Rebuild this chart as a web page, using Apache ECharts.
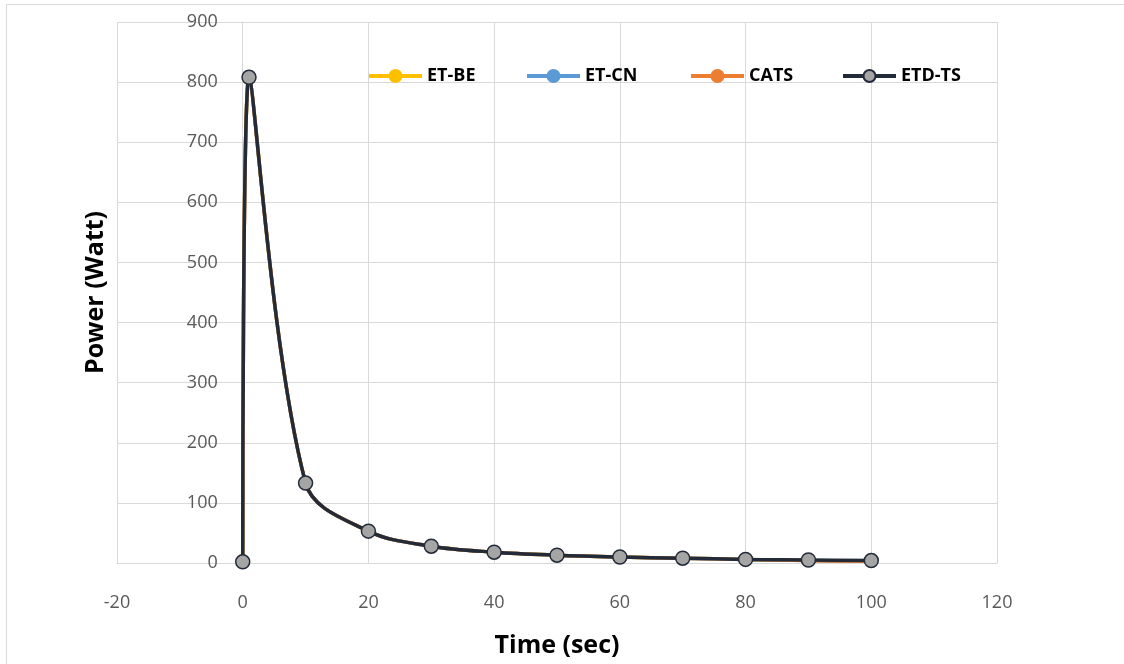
<!DOCTYPE html>
<html><head><meta charset="utf-8">
<script src="https://cdn.jsdelivr.net/npm/echarts@6/dist/echarts.min.js"></script>
<style>html,body{margin:0;padding:0;background:#fff}#c{width:1124px;height:664px}</style>
</head><body><div id="c"></div>
<script>
const timeSec = [0, 1, 10, 20, 30, 40, 50, 60, 70, 80, 90, 100];
const etBE   = [2, 808, 133, 53, 28, 18, 13, 10, 8, 6, 4, 3];
const etCN   = [2, 808, 133, 53, 28, 18, 13, 10, 8, 6, 4, 3];
const cats   = [2, 808, 133, 53, 28, 18, 13, 10, 8, 6, 4, 3];
const etdTS  = [2, 808, 133, 53, 28, 18, 13, 10, 8, 6, 5, 4];
const seriesNames = ['ET-BE', 'ET-CN', 'CATS', 'ETD-TS'];
const xTicks = {min: -20, max: 120, interval: 20};
const yTicks = {min: 0, max: 900, interval: 100};

const pair = arr => timeSec.map((t, i) => [t, arr[i]]);
const font = '"Open Sans", "Noto Sans", sans-serif';
const cfg = [
  {name: seriesNames[0], data: etBE, line: '#FFC000', fill: '#FFC000', border: '#FFC000'},
  {name: seriesNames[1], data: etCN, line: '#5B9BD5', fill: '#5B9BD5', border: '#5B9BD5'},
  {name: seriesNames[2], data: cats, line: '#ED7D31', fill: '#ED7D31', border: '#ED7D31'},
  {name: seriesNames[3], data: etdTS, line: '#232B39', fill: '#A5A5A5', border: '#232B39'}
];
const legendLeft = [362, 520, 684, 836];
const gridLeft = 117, gridRight = 127, chartW = 1124;
// y axis crosses the x axis at x = 0 (as in the original)
const yAxisOffset = -(0 - xTicks.min) / (xTicks.max - xTicks.min) * (chartW - gridLeft - gridRight);
const chart = echarts.init(document.getElementById('c'));
chart.setOption({
  animation: false,
  backgroundColor: '#fff',
  graphic: [{type: 'rect', shape: {x: 6.5, y: 4.5, width: 1130, height: 670},
    style: {fill: 'none', stroke: '#D9D9D9', lineWidth: 1}, silent: true}],
  grid: {left: gridLeft, right: gridRight, top: 22, bottom: 101, containLabel: false, outerBoundsMode: 'none'},
  legend: seriesNames.map((n, i) => ({
    top: 62, left: legendLeft[i], itemWidth: 53, itemHeight: 15, itemGap: 5,
    lineStyle: {width: 4},
    textStyle: {fontFamily: font, fontWeight: 'bold', fontSize: 18, color: '#000'},
    data: [n]
  })),
  xAxis: {
    type: 'value', min: xTicks.min, max: xTicks.max, interval: xTicks.interval,
    name: 'Time (sec)', nameLocation: 'middle', nameGap: 70,
    nameTextStyle: {fontFamily: font, fontWeight: 'bold', fontSize: 25, color: '#000'},
    axisLine: {show: true, onZero: false, lineStyle: {color: '#D9D9D9', width: 1}},
    axisTick: {show: false},
    axisLabel: {fontFamily: font, fontSize: 18, color: '#595959', margin: 31},
    splitLine: {show: true, lineStyle: {color: '#D9D9D9', width: 1}}
  },
  yAxis: {
    type: 'value', min: yTicks.min, max: yTicks.max, interval: yTicks.interval,
    position: 'left', offset: yAxisOffset,
    name: 'Power (Watt)', nameLocation: 'middle', nameGap: 134, nameRotate: 90,
    nameTextStyle: {fontFamily: font, fontWeight: 'bold', fontSize: 25, color: '#000'},
    axisLine: {show: true, onZero: false, lineStyle: {color: '#D9D9D9', width: 1}},
    axisTick: {show: false},
    axisLabel: {fontFamily: font, fontSize: 18, color: '#595959', margin: 25},
    splitLine: {show: true, lineStyle: {color: '#D9D9D9', width: 1}}
  },
  series: cfg.map((c, i) => ({
    name: c.name, type: 'line', smooth: 0.35,
    data: pair(c.data),
    lineStyle: {color: c.line, width: 3.5},
    itemStyle: {color: c.fill, borderColor: c.border, borderWidth: 1.5},
    symbol: 'circle', symbolSize: i === 3 ? 14 : 0,
    showSymbol: true, z: 2 + i
  }))
});
</script></body></html>
